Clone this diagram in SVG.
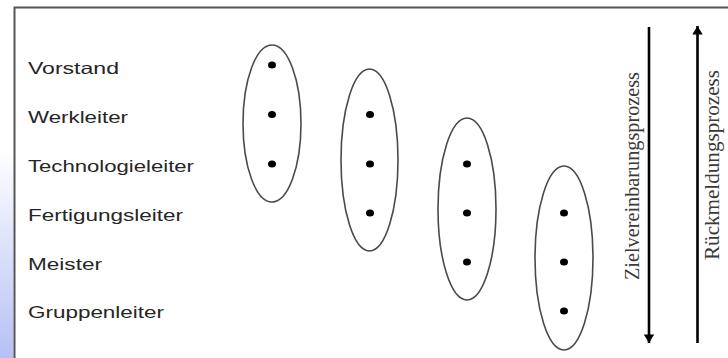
<svg xmlns="http://www.w3.org/2000/svg" width="728" height="358" viewBox="0 0 728 358">
<defs>
<linearGradient id="blue" x1="0" y1="150" x2="0" y2="358" gradientUnits="userSpaceOnUse">
<stop offset="0" stop-color="#ffffff"/>
<stop offset="1" stop-color="#b6c0f4"/>
</linearGradient>
<marker id="ah" viewBox="0 0 10 10" refX="10" refY="5" markerWidth="3.3" markerHeight="4" orient="auto" markerUnits="strokeWidth" preserveAspectRatio="none">
<path d="M0,0 L10,5 L0,10 z" fill="#000"/>
</marker>
<style>
.lbl{font-family:"Liberation Sans",Arial,sans-serif;font-size:16.5px;fill:#262626}
.vt{font-family:"Liberation Serif","Times New Roman",serif;font-size:22px;fill:#3a3a3a}
.grp{fill:none;stroke:#4a4a4a;stroke-width:1.6}
.dot{fill:#000}
.arr{stroke:#000;stroke-width:2.6;fill:none}
</style>
</defs>
<rect width="728" height="358" fill="#fff"/>
<rect x="0" y="0" width="13.5" height="358" fill="url(#blue)"/>
<path d="M14.5 358 V7.5 H728" fill="none" stroke="#555" stroke-width="2"/>

<g id="labels">
<text class="lbl" x="28" y="74" textLength="91" lengthAdjust="spacingAndGlyphs">Vorstand</text>
<text class="lbl" x="28" y="123" textLength="100" lengthAdjust="spacingAndGlyphs">Werkleiter</text>
<text class="lbl" x="28" y="172" textLength="166" lengthAdjust="spacingAndGlyphs">Technologieleiter</text>
<text class="lbl" x="28" y="221" textLength="155" lengthAdjust="spacingAndGlyphs">Fertigungsleiter</text>
<text class="lbl" x="28" y="270" textLength="74" lengthAdjust="spacingAndGlyphs">Meister</text>
<text class="lbl" x="28" y="318" textLength="136" lengthAdjust="spacingAndGlyphs">Gruppenleiter</text>
</g>

<g id="group1">
<ellipse class="grp" cx="272" cy="123.5" rx="29" ry="78.5"/>
<ellipse class="dot" cx="272" cy="65" rx="4" ry="3.5"/>
<ellipse class="dot" cx="272" cy="114.5" rx="4" ry="3.5"/>
<ellipse class="dot" cx="272" cy="164" rx="4" ry="3.5"/>
</g>
<g id="group2">
<ellipse class="grp" cx="369.5" cy="160" rx="28.5" ry="91"/>
<ellipse class="dot" cx="370" cy="114.5" rx="4" ry="3.5"/>
<ellipse class="dot" cx="370" cy="164" rx="4" ry="3.5"/>
<ellipse class="dot" cx="370" cy="213" rx="4" ry="3.5"/>
</g>
<g id="group3">
<ellipse class="grp" cx="467" cy="209" rx="29" ry="91"/>
<ellipse class="dot" cx="467" cy="164" rx="4" ry="3.5"/>
<ellipse class="dot" cx="467" cy="213" rx="4" ry="3.5"/>
<ellipse class="dot" cx="467" cy="262" rx="4" ry="3.5"/>
</g>
<g id="group4">
<ellipse class="grp" cx="564" cy="258" rx="29" ry="92"/>
<ellipse class="dot" cx="564" cy="213" rx="4" ry="3.5"/>
<ellipse class="dot" cx="564" cy="262" rx="4" ry="3.5"/>
<ellipse class="dot" cx="564" cy="311" rx="4" ry="3.5"/>
</g>

<g id="connectors">
<line class="arr" x1="649" y1="27" x2="649" y2="343" marker-end="url(#ah)"/>
<line class="arr" x1="697.5" y1="343" x2="697.5" y2="26" marker-end="url(#ah)"/>
</g>

<g id="process-labels">
<text class="vt" transform="translate(639,280) rotate(-90)" textLength="208" lengthAdjust="spacingAndGlyphs">Zielvereinbarungsprozess</text>
<text class="vt" transform="translate(719,260) rotate(-90)" textLength="190" lengthAdjust="spacingAndGlyphs">Rückmeldungsprozess</text>
</g>
</svg>
